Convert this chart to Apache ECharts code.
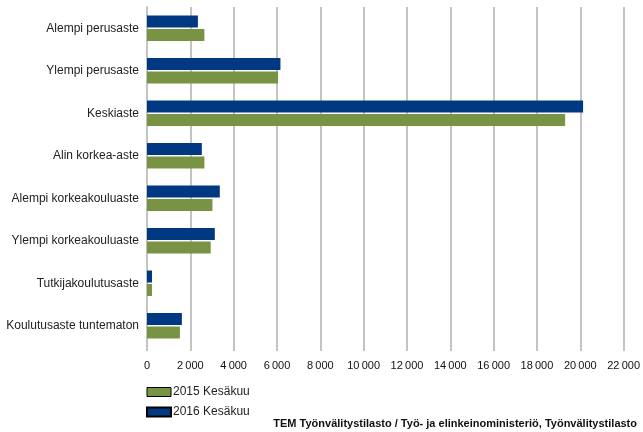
<!DOCTYPE html>
<html>
<head>
<meta charset="utf-8">
<script src="https://cdn.jsdelivr.net/npm/echarts@6/dist/echarts.min.js"></script>
<style>
    html, body { margin: 0; padding: 0; background: #fff; }
    #chart { width: 643px; height: 432px; }
</style>
</head>
<body>
<div id="chart"></div>
<script>
    var categories = ['Alempi perusaste', 'Ylempi perusaste', 'Keskiaste', 'Alin korkea-aste',
        'Alempi korkeakouluaste', 'Ylempi korkeakouluaste', 'Tutkijakoulutusaste', 'Koulutusaste tuntematon'];
    var values2015 = [2650, 6050, 19300, 2650, 3020, 2940, 230, 1520];
    var values2016 = [2350, 6160, 20130, 2530, 3360, 3130, 230, 1610];
    var seriesNames = ['2015 Kesäkuu', '2016 Kesäkuu'];
    var sourceText = 'TEM Työnvälitystilasto / Työ- ja elinkeinoministeriö, Työnvälitystilasto';

    var font = 'Liberation Sans, Arial, sans-serif';
    var gridColor = '#c3c3c3';

    var myChart = echarts.init(document.getElementById('chart'));
    var options = {
        animation: false,
        textStyle: { fontFamily: font },
        grid: { left: 147, right: 17, top: 7, bottom: 85, containLabel: false },
        legend: {
            orient: 'vertical',
            left: 146,
            top: 386,
            padding: 0,
            icon: 'rect',
            itemWidth: 24,
            itemHeight: 9,
            itemGap: 8,
            textStyle: { fontSize: 12, color: '#222', fontFamily: font, padding: [0, 0, 0, -3] },
            data: [
                { name: seriesNames[0], itemStyle: { borderColor: '#000', borderWidth: 1 } },
                { name: seriesNames[1], itemStyle: { borderColor: '#000', borderWidth: 2 } }
            ]
        },
        graphic: [{
            type: 'text',
            right: 6,
            top: 418,
            style: { text: sourceText, font: 'bold 11px ' + font, fill: '#111' }
        }],
        xAxis: {
            type: 'value',
            min: 0,
            max: 22000,
            interval: 2000,
            axisLine: { show: false },
            axisTick: { show: true, length: 4, lineStyle: { color: gridColor, width: 2 } },
            splitLine: { show: true, lineStyle: { color: gridColor, width: 2 } },
            axisLabel: {
                fontSize: 11,
                color: '#111',
                margin: 13,
                formatter: function (v) {
                    return String(v).replace(/\B(?=(\d{3})+(?!\d))/g, '\u2009');
                }
            }
        },
        yAxis: {
            type: 'category',
            inverse: true,
            data: categories,
            axisLine: { show: true, lineStyle: { color: gridColor, width: 2 } },
            axisTick: { show: false },
            axisLabel: { fontSize: 12, color: '#222', margin: 8 }
        },
        series: [
            {
                name: seriesNames[1],
                type: 'bar',
                barWidth: 12,
                barGap: '12%',
                itemStyle: { color: '#003882' },
                data: values2016
            },
            {
                name: seriesNames[0],
                type: 'bar',
                barWidth: 12,
                barGap: '12%',
                itemStyle: { color: '#779343' },
                data: values2015
            }
        ]
    };
    myChart.setOption(options);
</script>
</body>
</html>
